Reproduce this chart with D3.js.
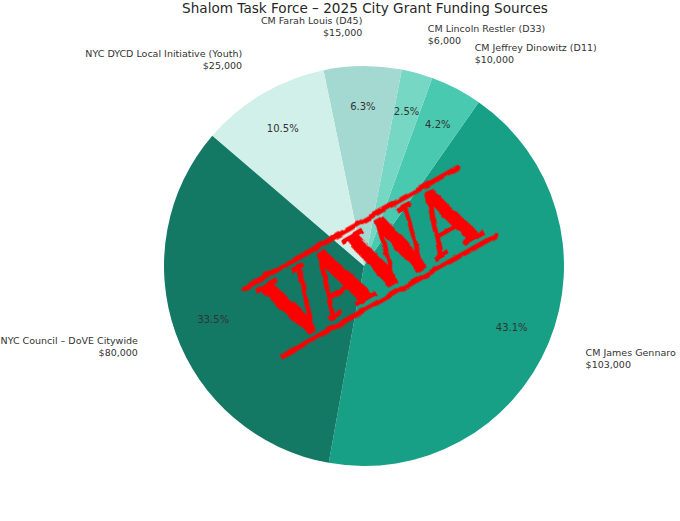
<!DOCTYPE html>
<html lang="en">
<head>
  <meta charset="UTF-8" />
  <title>Shalom Task Force – 2025 City Grant Funding Sources</title>
  <script src="https://d3js.org/d3.v7.min.js"></script>
  <style>
    html, body { margin: 0; padding: 0; background: #fff; }
    svg { display: block; font-family: "DejaVu Sans", sans-serif; }
    .title { font-size: 13.6px; fill: #262626; text-anchor: middle; }
    .label { font-size: 9.5px; fill: #333; }
    .pct { font-size: 10px; fill: #333; text-anchor: middle; }
  </style>
</head>
<body>
  <svg width="680" height="521"></svg>
  <script>
    // slices in counter-clockwise order, starting from the bottom
    const sources = ["CM James Gennaro", "CM Jeffrey Dinowitz (D11)", "CM Lincoln Restler (D33)",
                     "CM Farah Louis (D45)", "NYC DYCD Local Initiative (Youth)", "NYC Council – DoVE Citywide"];
    const amounts = [103000, 10000, 6000, 15000, 25000, 80000];
    const colors = ["#17a085", "#48c9b0", "#76d7c4", "#a3d9d1", "#d1f0ea", "#137864"];
    const title = "Shalom Task Force – 2025 City Grant Funding Sources";
    const stampText = "VAWA";

    const svg = d3.select("svg");
    const cx = 364, cy = 266, r = 200;
    const start = 190.15 * Math.PI / 180;

    const data = sources.map((s, i) => ({ name: s, value: amounts[i], color: colors[i] }));
    const total = d3.sum(amounts);
    const fmt = d3.format("$,");

    const pie = d3.pie().sort(null).value(d => d.value)
      .startAngle(start).endAngle(start - 2 * Math.PI);
    const arcs = pie(data);
    const arc = d3.arc().innerRadius(0).outerRadius(r);

    const g = svg.append("g").attr("transform", `translate(${cx},${cy})`);

    g.selectAll("path.slice")
      .data(arcs)
      .enter()
      .append("path")
      .attr("class", "slice")
      .attr("d", arc)
      .attr("fill", d => d.data.color);

    const pos = (d, k) => {
      const a = (d.startAngle + d.endAngle) / 2;
      return [k * r * Math.sin(a), -k * r * Math.cos(a)];
    };

    g.selectAll("text.pct")
      .data(arcs)
      .enter()
      .append("text")
      .attr("class", "pct")
      .attr("x", d => pos(d, 0.8)[0])
      .attr("y", d => pos(d, 0.8)[1])
      .attr("dy", "0.35em")
      .text(d => (d.data.value / total * 100).toFixed(1) + "%");

    const labels = g.selectAll("text.label")
      .data(arcs)
      .enter()
      .append("text")
      .attr("class", "label")
      .attr("text-anchor", d => pos(d, 1.2)[0] < 0 ? "end" : "start")
      .attr("transform", d => `translate(${pos(d, 1.2)})`);
    labels.append("tspan").attr("x", 0).attr("y", -5.5).attr("dy", "0.35em").text(d => d.data.name);
    labels.append("tspan").attr("x", 0).attr("y", 6.5).attr("dy", "0.35em").text(d => fmt(d.data.value));

    svg.append("text")
      .attr("class", "title")
      .attr("x", 365)
      .attr("y", 12.5)
      .text(title);

    // rubber stamp overlay
    const defs = svg.append("defs");
    const rough = defs.append("filter").attr("id", "rough")
      .attr("x", "-10%").attr("y", "-10%").attr("width", "120%").attr("height", "120%");
    rough.append("feTurbulence").attr("type", "fractalNoise")
      .attr("baseFrequency", 0.08).attr("numOctaves", 2).attr("seed", 3).attr("result", "noise");
    rough.append("feDisplacementMap").attr("in", "SourceGraphic").attr("in2", "noise")
      .attr("scale", 5).attr("xChannelSelector", "R").attr("yChannelSelector", "G");

    const stamp = svg.append("g")
      .attr("transform", "translate(370,262) rotate(-29.5)")
      .attr("filter", "url(#rough)");
    [-39, 39].forEach(v => {
      stamp.append("line")
        .attr("x1", -123).attr("x2", 123)
        .attr("y1", v).attr("y2", v)
        .attr("stroke", "#ff0000")
        .attr("stroke-width", 5)
        .attr("stroke-linecap", "round");
    });
    stamp.append("text")
      .attr("x", 0)
      .attr("y", 32)
      .attr("text-anchor", "middle")
      .attr("textLength", 226)
      .attr("lengthAdjust", "spacingAndGlyphs")
      .style("font-family", "'DejaVu Serif', serif")
      .style("font-weight", "bold")
      .style("font-size", "90px")
      .attr("fill", "#ff0000")
      .text(stampText);
  </script>
</body>
</html>
